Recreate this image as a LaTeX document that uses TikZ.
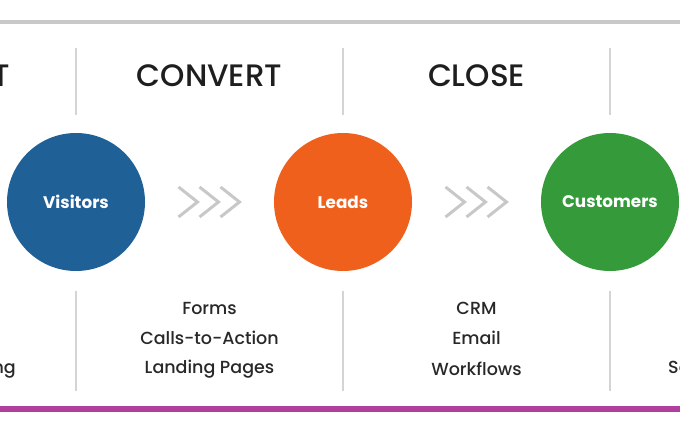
\documentclass[tikz,border=0pt]{standalone}
\usepackage{fontspec}
\setmainfont{Poppins}
\newfontfamily\medfont{Poppins Medium}
\usetikzlibrary{positioning,calc}

\definecolor{visitblue}{RGB}{31,96,150}
\definecolor{leadorange}{RGB}{238,96,28}
\definecolor{custgreen}{RGB}{52,154,58}
\definecolor{headblack}{RGB}{30,30,30}
\definecolor{toolgray}{RGB}{40,40,40}
\definecolor{rulegray}{RGB}{200,200,200}
\definecolor{sepgray}{RGB}{212,212,212}
\definecolor{chevgray}{RGB}{200,200,200}
\definecolor{rulepurple}{RGB}{176,64,158}

\begin{document}
\begin{tikzpicture}[x=1pt,y=-1pt,node distance=267pt,
                stage node/.style={circle,minimum size=138pt,inner sep=0pt,text=white,
                  font=\bfseries\fontsize{16.8}{17}\selectfont},
                head node/.style={text=headblack,inner sep=0pt,font=\medfont\fontsize{31}{32}\selectfont},
                tool node/.style={text=toolgray,inner sep=0pt,font=\medfont\fontsize{17.5}{18}\selectfont},
                chevron/.style={draw=chevgray,line width=3pt},
                sep line/.style={draw=sepgray,line width=1.5pt}]
                \useasboundingbox (0,0) rectangle (680,430);
                \clip (0,0) rectangle (680,430);
                % rules
                \draw[draw=rulegray,line width=4pt] (0,22) -- (680,22);
                \draw[draw=rulepurple,line width=6pt] (0,409) -- (680,409);
                % stages
                \node[stage node,fill=visitblue] (visitors) at (76,202) {Visitors};
                \node[stage node,fill=leadorange] (leads) [right of=visitors] {Leads};
                \node[stage node,fill=custgreen] (customers) [right of=leads] {Customers};
                \coordinate (mid1) at ($(visitors)!0.5!(leads)$);
                \coordinate (mid2) at ($(leads)!0.5!(customers)$);
                % separators
                \foreach \n in {visitors,leads,customers} {
                  \draw[sep line] (\n |- 0,48) -- (\n |- 0,115);
                  \draw[sep line] (\n |- 0,291) -- (\n |- 0,391);
                }
                % chevrons
                \foreach \m in {mid1,mid2}
                  \foreach \i in {-1,0,1}
                    \draw[chevron] ($(\m)+(\i*21-10,-15)$) -- ++(19,15) -- ++(-19,15);
                % headings
                \node[head node,anchor=east] (attract) at (10,76) {ATTRACT};
                \node[head node] (convert) at (mid1 |- 0,76) {CONVERT};
                \node[head node] (close) at (mid2 |- 0,76) {CLOSE};
                % tools
                \node[tool node] (forms) at (mid1 |- 0,308) {Forms};
                \node[tool node] (cta) [below of=forms,node distance=30pt] {Calls-to-Action};
                \node[tool node] (landing) [below of=cta,node distance=31pt] {Landing Pages};
                \node[tool node] (crm) at (mid2 |- 0,308) {CRM};
                \node[tool node] (email) [below of=crm,node distance=30pt] {Email};
                \node[tool node] (workflows) [below of=email,node distance=31pt] {Workflows};
                \node[tool node,anchor=east] (publishing) at (16,369) {Social Publishing};
                \node[tool node,anchor=west] (monitoring) at (668,369) {Social Monitoring};
\end{tikzpicture}
\end{document}
